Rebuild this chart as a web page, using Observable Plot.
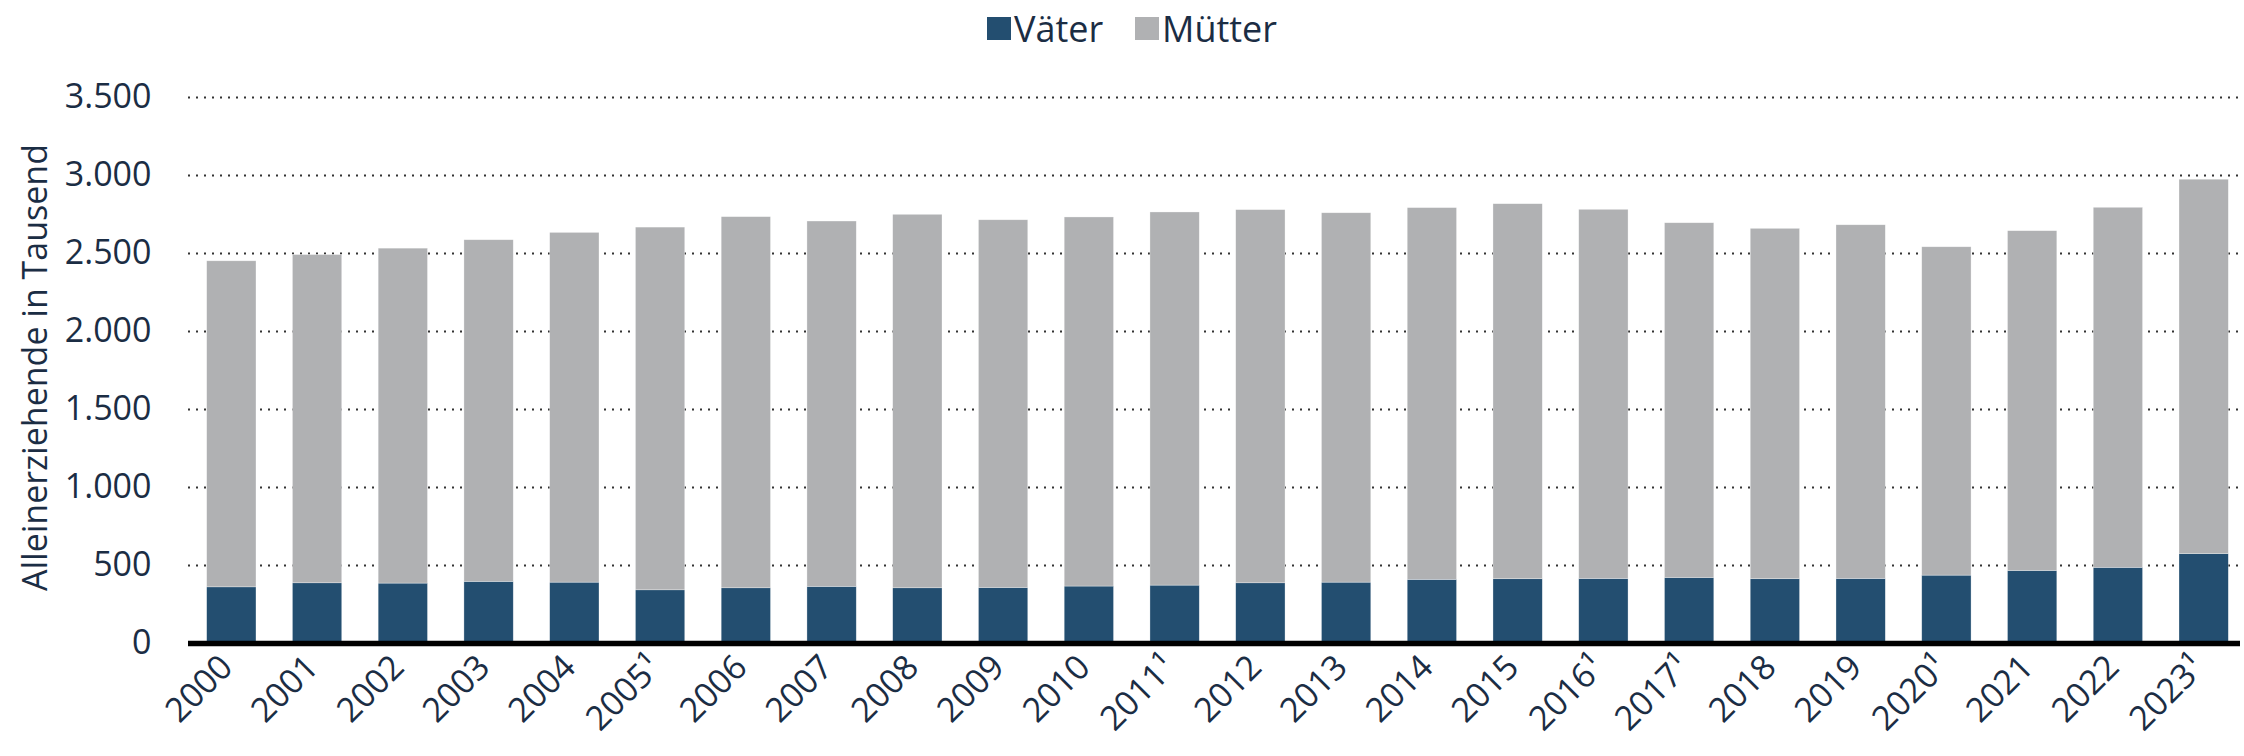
<!DOCTYPE html>
<html>
<head>
<meta charset="utf-8">
<script src="https://cdn.jsdelivr.net/npm/d3@7"></script>
<script src="https://cdn.jsdelivr.net/npm/@observablehq/plot@0.6"></script>
<style>
  html, body { margin: 0; padding: 0; background: #fff; }
  body { width: 2244px; height: 756px; overflow: hidden; font-family: "Open Sans", sans-serif; color: #1b2d44; }
  #legend { position: relative; height: 56px; width: 2244px; }
  .item { position: absolute; top: 0; height: 56px; display: flex; align-items: center; font-size: 36px; }
  .sw { width: 24px; height: 23px; margin-right: 3px; margin-top: 1px; }
  #chart svg { display: block; }
</style>
</head>
<body>
<div id="legend"></div>
<div id="chart"></div>
<script>
const years = ["2000","2001","2002","2003","2004","2005¹","2006","2007","2008","2009","2010","2011¹","2012","2013","2014","2015","2016¹","2017¹","2018","2019","2020¹","2021","2022","2023¹"];
const vaeter = [360,386,384,395,390,341,354,363,354,356,365,371,386,390,408,412,414,420,412,414,435,465,485,573];
const muetter = [2090,2104,2147,2190,2242,2325,2379,2342,2394,2357,2366,2392,2392,2368,2383,2404,2366,2274,2246,2267,2105,2178,2308,2400];
const seriesNames = ["Väter","Mütter"];
const seriesColors = ["#234e70","#b0b1b3"];
const yTicks = [0,500,1000,1500,2000,2500,3000,3500];
const gridTicks = [500,1000,1500,2000,2500,3000,3500];
const yLabel = "Alleinerziehende in Tausend";

const rows = years.flatMap((y, i) => [
  {year: y, series: seriesNames[0], value: vaeter[i]},
  {year: y, series: seriesNames[1], value: muetter[i]}
]);

// legend
const legend = document.getElementById("legend");
const lefts = [987, 1135];
seriesNames.forEach((n, i) => {
  const it = document.createElement("div");
  it.className = "item";
  it.style.left = lefts[i] + "px";
  const sw = document.createElement("div");
  sw.className = "sw";
  sw.style.background = seriesColors[i];
  const t = document.createElement("span");
  t.textContent = n;
  it.appendChild(sw); it.appendChild(t);
  legend.appendChild(it);
});

const fmt = d => d3.format(",")(d).replace(/,/g, ".");

const chart = Plot.plot({
  width: 2244,
  height: 700,
  marginTop: 41,
  marginBottom: 113,
  marginLeft: 188,
  marginRight: 4,
  style: {fontFamily: "Open Sans, sans-serif", color: "#1b2d44", background: "white"},
  x: {domain: years, paddingInner: 0.425, paddingOuter: 0.177, align: 0.615, round: false, label: null},
  y: {domain: [0, 3500], label: null},
  color: {domain: seriesNames, range: seriesColors},
  marks: [
    Plot.ruleY(gridTicks, {stroke: "#333", strokeWidth: 2, strokeDasharray: "2,6"}),
    Plot.barY(rows, {x: "year", y: "value", fill: "series", stroke: "white", strokeWidth: 0.6, strokeOpacity: 0.5}),
    Plot.ruleY([0], {stroke: "black", strokeWidth: 5.5}),
    Plot.axisY({ticks: yTicks, tickFormat: fmt, tickSize: 0, tickPadding: 37, fontSize: 34, label: null}),
    Plot.axisX({tickRotate: -45, tickSize: 0, tickPadding: 18, dx: -5, fontSize: 34, label: null}),
    Plot.text([yLabel], {frameAnchor: "left", dx: -152, dy: -3, rotate: -90, fontSize: 34, fill: "#1b2d44", textAnchor: "middle", lineAnchor: "middle"})
  ]
});
document.getElementById("chart").appendChild(chart);
</script>
</body>
</html>
